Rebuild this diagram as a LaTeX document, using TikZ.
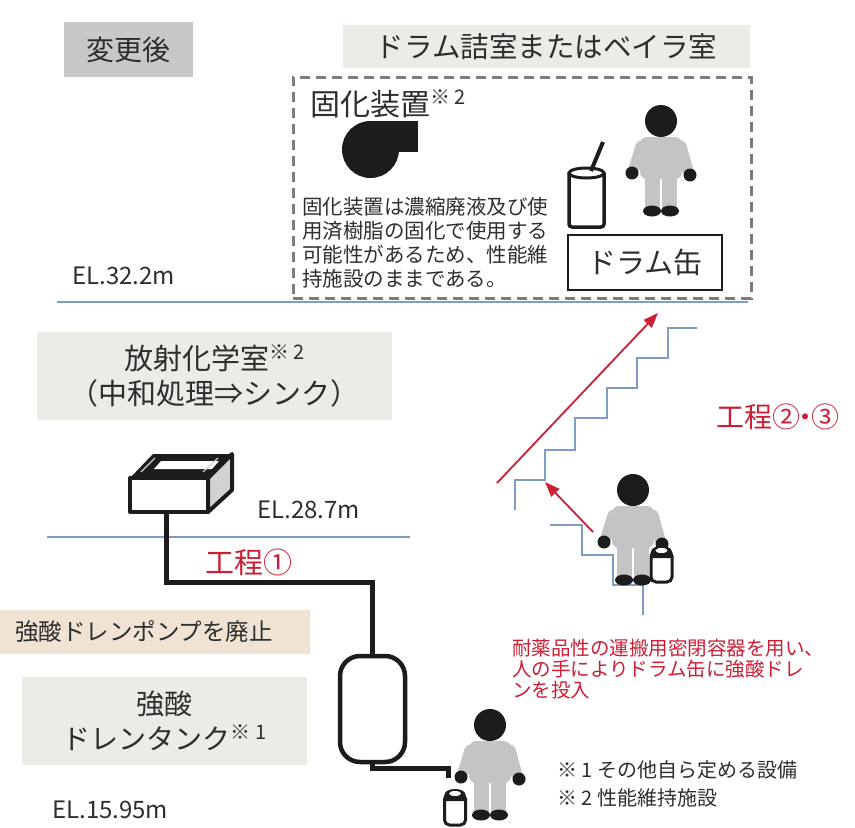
\documentclass[tikz,border=0pt]{standalone}
\usepackage{fontspec}
\setmainfont{Noto Sans CJK JP}
\usetikzlibrary{arrows.meta}
\definecolor{ink}{HTML}{2E2E2E}
\definecolor{tagfill}{HTML}{C8C8C8}
\definecolor{roomfill}{HTML}{ECEBE6}
\definecolor{tanfill}{HTML}{F0E3D3}
\definecolor{alert}{HTML}{CC1F36}
\definecolor{floorline}{HTML}{7F9CC3}
\definecolor{dashline}{HTML}{7C7C7C}
\definecolor{suit}{HTML}{C4C4C4}
\definecolor{darkfill}{HTML}{1C1C1C}
\definecolor{sideface}{HTML}{D2D2D2}
\newcommand\fsz[2]{\fontsize{#1}{#2}\selectfont}
\newcommand\note[1]{\raisebox{0.35em}{\fsz{20}{24}#1}}

\begin{document}
\begin{tikzpicture}[x=1pt,y=-1pt,
  every node/.style={inner sep=0pt, text=ink},
  tag/.style={fill=tagfill, font=\fsz{28}{34}},
  room/.style={fill=roomfill, align=center},
  elev/.style={anchor=west, font=\fsz{24}{28}},
  floor/.style={floorline, line width=1.4pt},
  stair/.style={floorline, line width=1.4pt, line join=miter},
  pipe/.style={darkfill, line width=5pt, line join=miter},
  flow/.style={alert, line width=1.8pt, -{Triangle[length=15pt,width=11pt]}},
  stage/.style={anchor=west, text=alert, font=\fsz{29}{34}},
  person/.pic={
    \draw[suit, line width=11pt, line cap=round] (-20,25) -- (-27,48);
    \draw[suit, line width=11pt, line cap=round] (20,25) -- (27,50);
    \fill[suit, rounded corners=7pt] (-21,16) rectangle (21,58);
    \fill[suit] (-16,50) rectangle (-1,88);
    \fill[suit] (1,50) rectangle (16,88);
    \fill[darkfill] (0,0) circle[radius=16pt];
    \fill[darkfill] (-29,52) circle[radius=6.5pt] (29,54) circle[radius=6.5pt];
    \fill[darkfill] (-9,90) ellipse[x radius=9pt, y radius=5.5pt]
                    (9,90) ellipse[x radius=9pt, y radius=5.5pt];
  },
  jug/.pic={
    \filldraw[fill=white, draw=darkfill, line width=3pt, rounded corners=5pt]
      (-10.5,6) rectangle (10.5,37);
    \fill[darkfill] (-10.5,13) -- (-10.5,7) .. controls (-10.5,-1) and (10.5,-1) .. (10.5,7) -- (10.5,13) -- cycle;
    \fill[white] (0,5.5) ellipse[x radius=6pt, y radius=2.5pt];
  },
]
\useasboundingbox (0,0) rectangle (855,828);
\fill[white] (0,0) rectangle (855,828);

% ---- headings ----
\node[tag, minimum width=129pt, minimum height=55pt] (after) at (128.5,49.5) {変更後};
\node[room, minimum width=407pt, minimum height=43pt, font=\fsz{28.5}{34}] (drumtitle) at (546.5,46.5) {ドラム詰室またはベイラ室};

% ---- drum filling room ----
\node[draw=dashline, line width=3pt, dash pattern=on 10pt off 6pt,
      minimum width=458pt, minimum height=221pt] (drumroom) at (522,187.5) {};
\node[anchor=west, font=\fsz{30}{36}] (solidifier) at (310,104) {固化装置\note{※ 2}};
% blower symbol of the solidifier
\fill[darkfill] (370.5,149.5) circle[radius=28.5pt];
\fill[darkfill] (370.5,121) rectangle (418,152);
\node[anchor=west, align=left, font=\fsz{20.5}{24}] (solidtext) at (302,243)
  {固化装置は濃縮廃液及び使\\用済樹脂の固化で使用する\\可能性があるため、性能維\\持施設のままである。};
% drum can with filling tube
\draw[darkfill, line width=3.5pt, rounded corners=3pt] (569,173) -- (569,227) -- (604,227) -- (604,173);
\draw[darkfill, line width=3pt] (586.5,173) ellipse[x radius=17.5pt, y radius=5pt];
\draw[darkfill, line width=4pt] (591,171) -- (603,142);
\pic at (661,121) {person};
\node[draw=darkfill, line width=1.5pt, minimum width=154pt, minimum height=55pt,
      font=\fsz{29}{34}] (drumlabel) at (645,262.5) {ドラム缶};

% ---- floor EL.32.2m ----
\node[elev] (el322) at (72,276) {EL.32.2m};
\draw[floor] (57,302) -- (748,302);

% ---- radiochemistry room ----
\node[room, minimum width=355pt, minimum height=88pt, font=\fsz{29}{35}] (chemroom) at (214.5,376)
  {放射化学室\note{※ 2}\\（中和処理⇒シンク）};
% sink
\fill[darkfill] (130,478) -- (153,454) -- (232,454) -- (208,478) -- cycle;
\fill[white] (154,469) -- (161,461) -- (219,461) -- (212,469) -- cycle;
\draw[sideface, line width=1.2pt] (141,472) -- (155,458) (203,472) -- (218,458);
\filldraw[fill=sideface, draw=darkfill, line width=4pt, line join=round]
  (208,478) -- (232,454) -- (232,490) -- (208,512) -- cycle;
\filldraw[fill=white, draw=darkfill, line width=4pt, line join=round]
  (130,478) rectangle (208,512);
\coordinate (sinkout) at (166,512);
\node[elev] (el287) at (257,510) {EL.28.7m};
\draw[floor] (47,537) -- (410,537);
\node[stage] (step1) at (205,562) {工程①};

% ---- strong acid drain tank ----
\node[draw=darkfill, line width=4.5pt, rounded corners=20pt,
      minimum width=65pt, minimum height=106pt] (tank) at (372.5,709) {};
\coordinate (pipeend) at (448,778);
\draw[pipe] (sinkout) -- (sinkout |- 0,582) -- (tank.north |- 0,582) -- (tank.north);
\draw[pipe] (tank.south) -- ++(0,4) -| (pipeend);
\pic at (455,788) {jug};
\pic at (490,725) {person};

\node[fill=tanfill, anchor=west, text width=280pt, align=left, inner xsep=15pt,
      minimum height=44pt, font=\fsz{23.5}{28}] (pumpgone) at (0,632) {強酸ドレンポンプを廃止};
\node[room, minimum width=285pt, minimum height=88pt, font=\fsz{28}{35}] (tanklabel) at (164.5,721)
  {強酸\\ドレンタンク\note{※ 1}};
\node[elev] (el1595) at (52,810) {EL.15.95m};

% ---- stairs and manual transfer ----
\draw[stair] (515,510) -- (515,480) -- (545,480) -- (545,450) -- (575,450) -- (575,418)
  -- (607,418) -- (607,388) -- (637,388) -- (637,358) -- (668,358) -- (668,328) -- (697,328);
\draw[stair] (550,525) -- (582,525) -- (582,555) -- (613,555) -- (613,585) -- (643,585) -- (643,615);
\coordinate (climbstart) at (497,483);
\coordinate (climbend) at (658,313);
\coordinate (stepstart) at (593,532);
\coordinate (stepend) at (545,482);
\draw[flow] (climbstart) -- (climbend);
\draw[flow] (stepstart) -- (stepend);
\pic at (633,490) {person};
\pic at (661.5,545) {jug};
\node[stage, font=\fsz{28}{34}] (step23) at (716,417) {工程②\kern-0.3em・\kern-0.3em③};
\node[anchor=west, align=left, text=alert, font=\fsz{19.5}{21}] (handnote) at (512,669)
  {耐薬品性の運搬用密閉容器を用い、\\人の手によりドラム缶に強酸ドレ\\ンを投入};

% ---- footnotes ----
\node[anchor=west, font=\fsz{20}{24}] (fn1) at (557,770) {※ 1 その他自ら定める設備};
\node[anchor=west, font=\fsz{20}{24}] (fn2) at (557,798) {※ 2 性能維持施設};
\end{tikzpicture}
\end{document}
